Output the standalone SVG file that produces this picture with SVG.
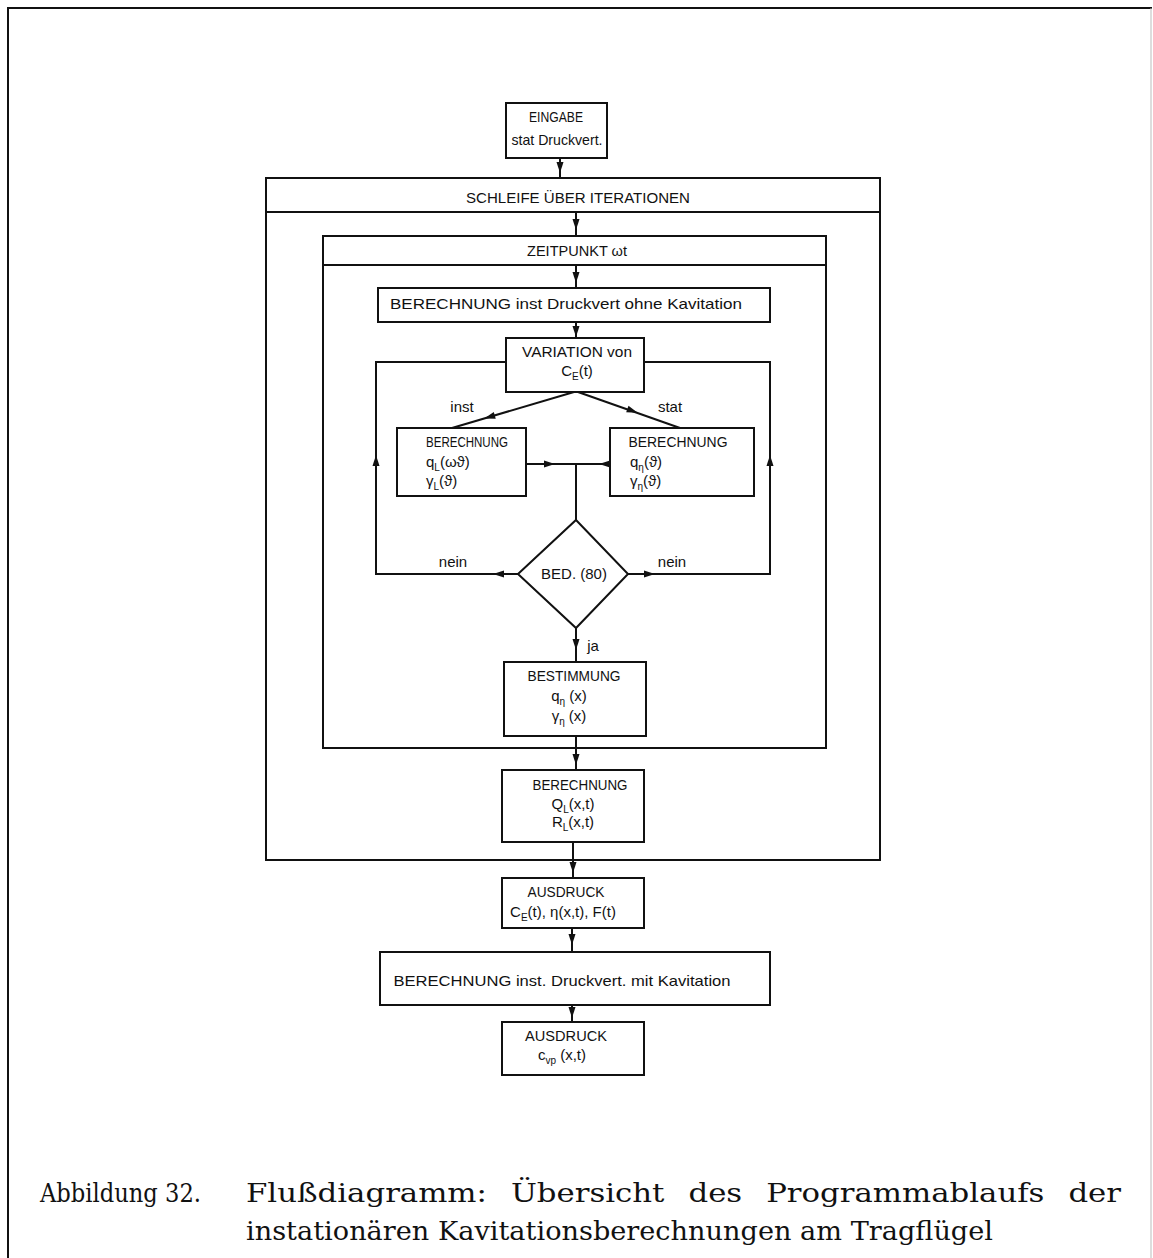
<svg xmlns="http://www.w3.org/2000/svg" xmlns:xlink="http://www.w3.org/1999/xlink" width="1153" height="1258" viewBox="0 0 1153 1258">
<style>
.b{fill:#fff;stroke:#111;stroke-width:2}
.l{fill:none;stroke:#111;stroke-width:2}
.t{font-family:"Liberation Sans",Arial,sans-serif;font-size:15px;fill:#111;text-anchor:middle}
.s{font-size:10px}
.cap{font-family:"DejaVu Serif","Liberation Serif",serif;font-size:26px;fill:#111}
</style>
<defs>
<path id="ah" d="M-6,-3.5 L5,0 L-6,3.5 z" fill="#111"/>
</defs>
<rect width="1153" height="1258" fill="#fff"/>
<g id="frame">
<path d="M8 1258 L8 8 L1152 8" class="l"/>
<path d="M1151 8 L1151 1258" fill="none" stroke="#bbb" stroke-width="1"/>
</g>
<g id="connectors">
<path class="l" d="M560 158 L560 178"/>
<path class="l" d="M576 212 L576 236"/>
<path class="l" d="M576 265 L576 288"/>
<path class="l" d="M576 322 L576 338"/>
<path class="l" d="M574 392 L452 428"/>
<path class="l" d="M578 392 L680 428"/>
<path class="l" d="M518 574 L376 574 L376 362 L506 362"/>
<path class="l" d="M628 574 L770 574 L770 362 L644 362"/>
<path class="l" d="M526 464 L610 464 M576 464 L576 520"/>
<path class="l" d="M576 628 L576 662"/>
<path class="l" d="M576 736 L576 770"/>
<path class="l" d="M573 842 L573 878"/>
<path class="l" d="M572 928 L572 952"/>
<path class="l" d="M572 1005 L572 1022"/>
<use xlink:href="#ah" transform="translate(560,168) rotate(90)"/>
<use xlink:href="#ah" transform="translate(576,225) rotate(90)"/>
<use xlink:href="#ah" transform="translate(576,278) rotate(90)"/>
<use xlink:href="#ah" transform="translate(576,332) rotate(90)"/>
<use xlink:href="#ah" transform="translate(489,417) rotate(163.6)"/>
<use xlink:href="#ah" transform="translate(633,411) rotate(19.4)"/>
<use xlink:href="#ah" transform="translate(498,574) rotate(180)"/>
<use xlink:href="#ah" transform="translate(376,460) rotate(-90)"/>
<use xlink:href="#ah" transform="translate(650,574) rotate(0)"/>
<use xlink:href="#ah" transform="translate(770,460) rotate(-90)"/>
<use xlink:href="#ah" transform="translate(550,464) rotate(0)"/>
<use xlink:href="#ah" transform="translate(604,464) rotate(180)"/>
<use xlink:href="#ah" transform="translate(576,645) rotate(90)"/>
<use xlink:href="#ah" transform="translate(576,760) rotate(90)"/>
<use xlink:href="#ah" transform="translate(573,868) rotate(90)"/>
<use xlink:href="#ah" transform="translate(572,940) rotate(90)"/>
<use xlink:href="#ah" transform="translate(572,1013) rotate(90)"/>
</g>
<g id="eingabe">
<rect class="b" x="506" y="103" width="101" height="55"/>
<text class="t" x="556" y="122" textLength="54" lengthAdjust="spacingAndGlyphs">EINGABE</text>
<text class="t" x="557" y="145" textLength="91" lengthAdjust="spacingAndGlyphs">stat Druckvert.</text>
</g>
<g id="schleife">
<rect x="266" y="178" width="614" height="682" fill="none" stroke="#111" stroke-width="2"/>
<path class="l" d="M266 212 L880 212"/>
<text class="t" x="578" y="203" font-size="16" textLength="224" lengthAdjust="spacingAndGlyphs">SCHLEIFE ÜBER  ITERATIONEN</text>
</g>
<g id="zeitpunkt">
<rect x="323" y="236" width="503" height="512" fill="none" stroke="#111" stroke-width="2"/>
<path class="l" d="M323 265 L826 265"/>
<text class="t" x="577" y="256" textLength="100" lengthAdjust="spacingAndGlyphs">ZEITPUNKT ωt</text>
</g>
<g id="ber-ohne">
<rect class="b" x="378" y="288" width="392" height="34"/>
<text class="t" x="566" y="309" textLength="352" lengthAdjust="spacingAndGlyphs">BERECHNUNG  inst Druckvert ohne Kavitation</text>
</g>
<g id="variation">
<rect class="b" x="506" y="338" width="138" height="54"/>
<text class="t" x="577" y="357" textLength="110" lengthAdjust="spacingAndGlyphs">VARIATION von</text>
<text class="t" x="577" y="376">C<tspan class="s" dy="4">E</tspan><tspan dy="-4">(t)</tspan></text>
</g>
<g id="labels">
<text class="t" x="462" y="412">inst</text>
<text class="t" x="670" y="412">stat</text>
<text class="t" x="453" y="567">nein</text>
<text class="t" x="672" y="567">nein</text>
<text class="t" x="593" y="651">ja</text>
</g>
<g id="ber-inst">
<rect class="b" x="397" y="428" width="129" height="68"/>
<text class="t" x="467" y="447" textLength="82" lengthAdjust="spacingAndGlyphs">BERECHNUNG</text>
<text class="t" x="426" y="467" style="text-anchor:start">q<tspan class="s" dy="4">L</tspan><tspan dy="-4">(ωϑ)</tspan></text>
<text class="t" x="426" y="486" style="text-anchor:start">γ<tspan class="s" dy="4">L</tspan><tspan dy="-4">(ϑ)</tspan></text>
</g>
<g id="ber-stat">
<rect class="b" x="610" y="428" width="144" height="68"/>
<text class="t" x="678" y="447" textLength="99" lengthAdjust="spacingAndGlyphs">BERECHNUNG</text>
<text class="t" x="630" y="467" style="text-anchor:start">q<tspan class="s" dy="4">η</tspan><tspan dy="-4">(ϑ)</tspan></text>
<text class="t" x="630" y="486" style="text-anchor:start">γ<tspan class="s" dy="4">η</tspan><tspan dy="-4">(ϑ)</tspan></text>
</g>
<g id="bed">
<polygon class="b" points="576,520 628,574 576,628 518,574"/>
<text class="t" x="574" y="579">BED. (80)</text>
</g>
<g id="bestimmung">
<rect class="b" x="504" y="662" width="142" height="74"/>
<text class="t" x="574" y="681" textLength="93" lengthAdjust="spacingAndGlyphs">BESTIMMUNG</text>
<text class="t" x="569" y="701">q<tspan class="s" dy="4">η</tspan><tspan dy="-4"> (x)</tspan></text>
<text class="t" x="569" y="721">γ<tspan class="s" dy="4">η</tspan><tspan dy="-4"> (x)</tspan></text>
</g>
<g id="ber-ql">
<rect class="b" x="502" y="770" width="142" height="72"/>
<text class="t" x="580" y="790" textLength="95" lengthAdjust="spacingAndGlyphs">BERECHNUNG</text>
<text class="t" x="573" y="809">Q<tspan class="s" dy="4">L</tspan><tspan dy="-4">(x,t)</tspan></text>
<text class="t" x="573" y="827">R<tspan class="s" dy="4">L</tspan><tspan dy="-4">(x,t)</tspan></text>
</g>
<g id="ausdruck1">
<rect class="b" x="502" y="878" width="142" height="50"/>
<text class="t" x="566" y="897" textLength="77" lengthAdjust="spacingAndGlyphs">AUSDRUCK</text>
<text class="t" x="563" y="917">C<tspan class="s" dy="4">E</tspan><tspan dy="-4">(t), η(x,t), F(t)</tspan></text>
</g>
<g id="ber-mit">
<rect class="b" x="380" y="952" width="390" height="53"/>
<text class="t" x="562" y="986" textLength="337" lengthAdjust="spacingAndGlyphs">BERECHNUNG inst. Druckvert. mit Kavitation</text>
</g>
<g id="ausdruck2">
<rect class="b" x="502" y="1022" width="142" height="53"/>
<text class="t" x="566" y="1041" textLength="82" lengthAdjust="spacingAndGlyphs">AUSDRUCK</text>
<text class="t" x="562" y="1060">c<tspan class="s" dy="4">vp</tspan><tspan dy="-4"> (x,t)</tspan></text>
</g>
<g id="caption">
<text class="cap" x="40" y="1202" textLength="161" lengthAdjust="spacingAndGlyphs">Abbildung 32.</text>
<text class="cap" x="246" y="1202" word-spacing="12" textLength="875" lengthAdjust="spacingAndGlyphs">Flußdiagramm: Übersicht des Programmablaufs der</text>
<text class="cap" x="246" y="1240" textLength="747" lengthAdjust="spacingAndGlyphs">instationären Kavitationsberechnungen am Tragflügel</text>
</g>
</svg>
